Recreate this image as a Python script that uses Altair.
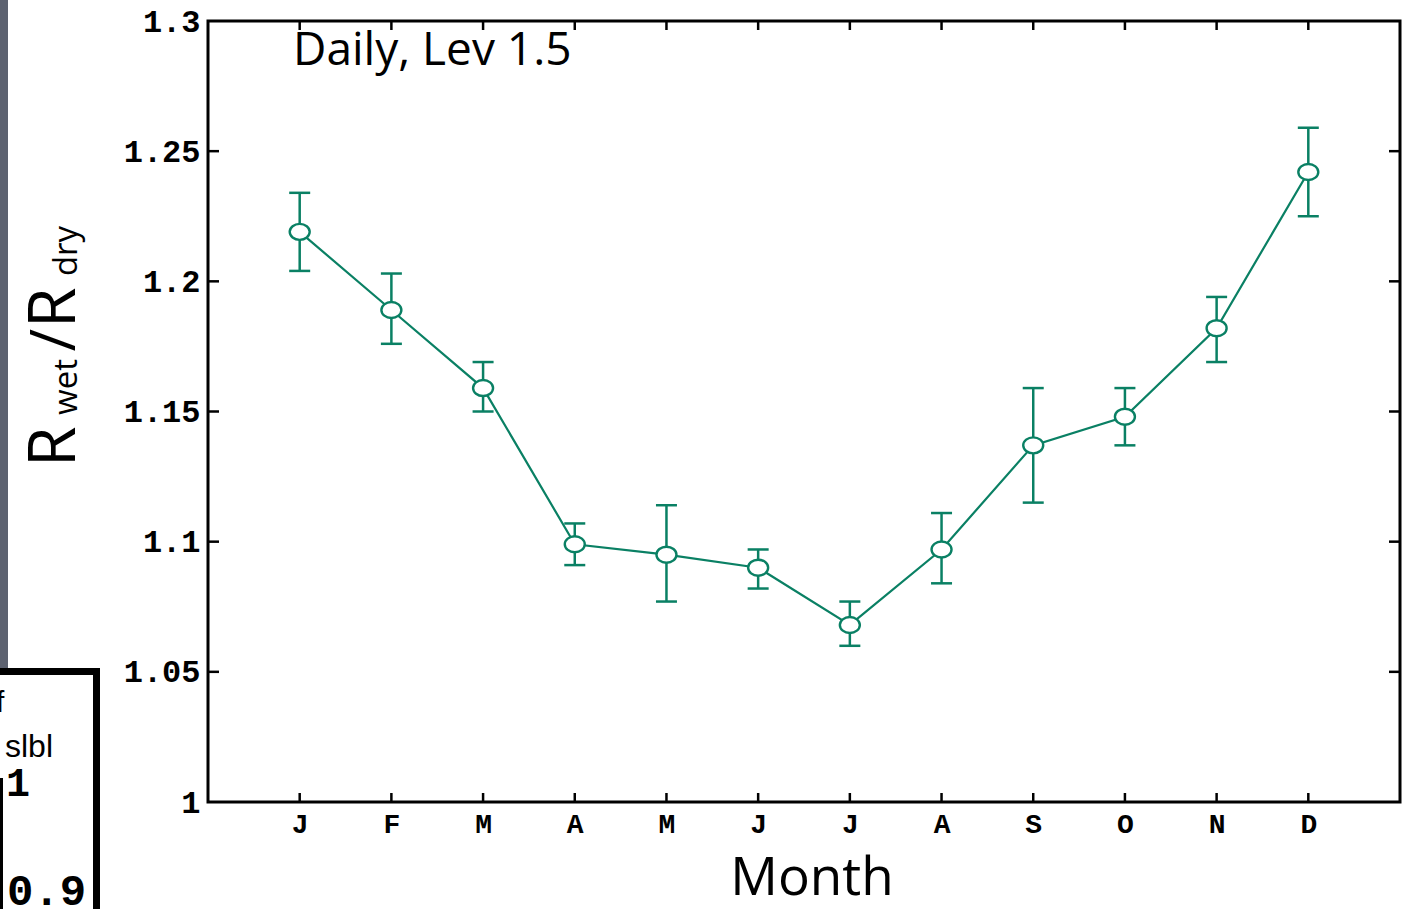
import altair as alt
import pandas as pd

# Monthly ratio of wet to dry values with error bars
month_letters = ["J", "F", "M", "A", "M", "J", "J", "A", "S", "O", "N", "D"]
month_index = [1, 2, 3, 4, 5, 6, 7, 8, 9, 10, 11, 12]
ratio = [1.219, 1.189, 1.159, 1.099, 1.095, 1.090, 1.068, 1.097, 1.137, 1.148, 1.182, 1.242]
ratio_hi = [1.234, 1.203, 1.169, 1.107, 1.114, 1.097, 1.077, 1.111, 1.159, 1.159, 1.194, 1.259]
ratio_lo = [1.204, 1.176, 1.150, 1.091, 1.077, 1.082, 1.060, 1.084, 1.115, 1.137, 1.169, 1.225]

y_ticks = [1.0, 1.05, 1.1, 1.15, 1.2, 1.25, 1.3]
y_inner_ticks = [1.05, 1.1, 1.15, 1.2, 1.25]

TEAL = "#0a8064"
W, H = 1192, 781
LABEL_FONT = "Liberation Mono"
HAND_FONT = "Open Sans"

df = pd.DataFrame({"m": month_index, "ratio": ratio, "hi": ratio_hi, "lo": ratio_lo})
yt = pd.DataFrame({"v": y_inner_ticks})
xt = pd.DataFrame({"m": month_index})

label_expr = "[" + ",".join(f"'{s}'" for s in month_letters) + "][datum.value - 1]"

x_scale = alt.Scale(domain=[0, 13], nice=False, zero=False)
y_scale = alt.Scale(domain=[1.0, 1.3], nice=False, zero=False)

x_axis = alt.Axis(values=month_index, labelExpr=label_expr, title=None, grid=False,
                  domain=False, ticks=False, tickSize=0, labelPadding=8,
                  labelFont=LABEL_FONT, labelFontWeight="bold", labelFontSize=28,
                  labelColor="black", labelBaseline="top")
y_axis = alt.Axis(values=y_ticks, format=".2~f", title=None, grid=False,
                  domain=False, ticks=False, tickSize=0, labelPadding=8,
                  labelFont=LABEL_FONT, labelFontWeight="bold", labelFontSize=32,
                  labelColor="black")

base = alt.Chart(df)

line = base.mark_line(color=TEAL, strokeWidth=2.2).encode(
    x=alt.X("m:Q", scale=x_scale, axis=x_axis),
    y=alt.Y("ratio:Q", scale=y_scale, axis=y_axis),
)

bars = base.mark_rule(color=TEAL, strokeWidth=2.5).encode(
    x="m:Q", y="lo:Q", y2="hi:Q"
)
cap_hi = base.mark_rule(color=TEAL, strokeWidth=2.5, xOffset=-10.5, x2Offset=10.5).encode(
    x="m:Q", x2="m:Q", y="hi:Q"
)
cap_lo = base.mark_rule(color=TEAL, strokeWidth=2.5, xOffset=-10.5, x2Offset=10.5).encode(
    x="m:Q", x2="m:Q", y="lo:Q"
)

ellipse = "M -1 0 A 1 0.8 0 1 0 1 0 A 1 0.8 0 1 0 -1 0 Z"
points = base.mark_point(shape=ellipse, size=400, filled=True, fill="white",
                         stroke=TEAL, strokeWidth=2.4, opacity=1).encode(
    x="m:Q", y="ratio:Q"
)

# inward ticks on all four sides of the frame
tick_style = dict(color="black", strokeWidth=2.5)
left_ticks = alt.Chart(yt).mark_rule(**tick_style).encode(
    y="v:Q", x=alt.value(0), x2=alt.value(11))
right_ticks = alt.Chart(yt).mark_rule(**tick_style).encode(
    y="v:Q", x=alt.value(W - 11), x2=alt.value(W))
bottom_ticks = alt.Chart(xt).mark_rule(**tick_style).encode(
    x="m:Q", y=alt.value(H), y2=alt.value(H - 9))
top_ticks = alt.Chart(xt).mark_rule(**tick_style).encode(
    x="m:Q", y=alt.value(0), y2=alt.value(9))

panel_label = alt.Chart(df.head(1)).mark_text(
    text="Daily, Lev 1.5", font=HAND_FONT, fontSize=46, align="left",
    baseline="alphabetic", color="black").encode(x=alt.value(85), y=alt.value(44))

x_title = alt.Chart(df.head(1)).mark_text(
    text="Month", font=HAND_FONT, fontSize=53, align="center",
    baseline="alphabetic", color="black").encode(x=alt.value(604), y=alt.value(874))

# y title: R_wet / R_dry built from pieces, rotated to read upward
title_parts = [
    ("R", 66, -133, 426),
    ("wet", 33, -131, 366),
    ("/", 62, -133, 319),
    ("R", 66, -133, 287),
    ("dry", 33, -131, 230),
]
y_title_layers = [
    alt.Chart(df.head(1)).mark_text(
        text=t, font=HAND_FONT, fontSize=fs, angle=270, align="center",
        baseline="alphabetic", color="black").encode(x=alt.value(px), y=alt.value(py))
    for t, fs, px, py in title_parts
]

# neighbouring slide elements at the left edge
strip = alt.Chart(df.head(1)).mark_rect(color="#5d6270").encode(
    x=alt.value(-208), x2=alt.value(-200), y=alt.value(-21), y2=alt.value(650))
box_top = alt.Chart(df.head(1)).mark_rule(color="black", strokeWidth=7).encode(
    x=alt.value(-210), x2=alt.value(-108), y=alt.value(650.5))
box_right = alt.Chart(df.head(1)).mark_rule(color="black", strokeWidth=7).encode(
    x=alt.value(-111.5), y=alt.value(647), y2=alt.value(890))
inner_line = alt.Chart(df.head(1)).mark_rule(color="black", strokeWidth=3).encode(
    x=alt.value(-206.5), y=alt.value(757), y2=alt.value(890))
side_texts = [
    ("f", "Liberation Sans", "normal", 30, -212, 691),
    ("slbl", "Liberation Sans", "normal", 32, -203, 736),
    ("1", LABEL_FONT, "bold", 40, -202, 775),
    ("0.9", LABEL_FONT, "bold", 44, -201, 884),
]
side_layers = [
    alt.Chart(df.head(1)).mark_text(
        text=t, font=f, fontWeight=fw, fontSize=fs, align="left",
        baseline="alphabetic", color="black").encode(x=alt.value(px), y=alt.value(py))
    for t, f, fw, fs, px, py in side_texts
]

chart = alt.layer(
    line, bars, cap_hi, cap_lo, points,
    left_ticks, right_ticks, bottom_ticks, top_ticks,
    panel_label, x_title, *y_title_layers,
    strip, box_top, box_right, inner_line, *side_layers,
).properties(
    width=W, height=H,
    autosize=alt.AutoSizeParams(type="none"),
    padding={"left": 208, "top": 21, "right": 9, "bottom": 107},
    background="white",
).configure_view(
    stroke="black", strokeWidth=3
)

chart.save("out.html", embed_options={"renderer": "svg", "actions": False})
